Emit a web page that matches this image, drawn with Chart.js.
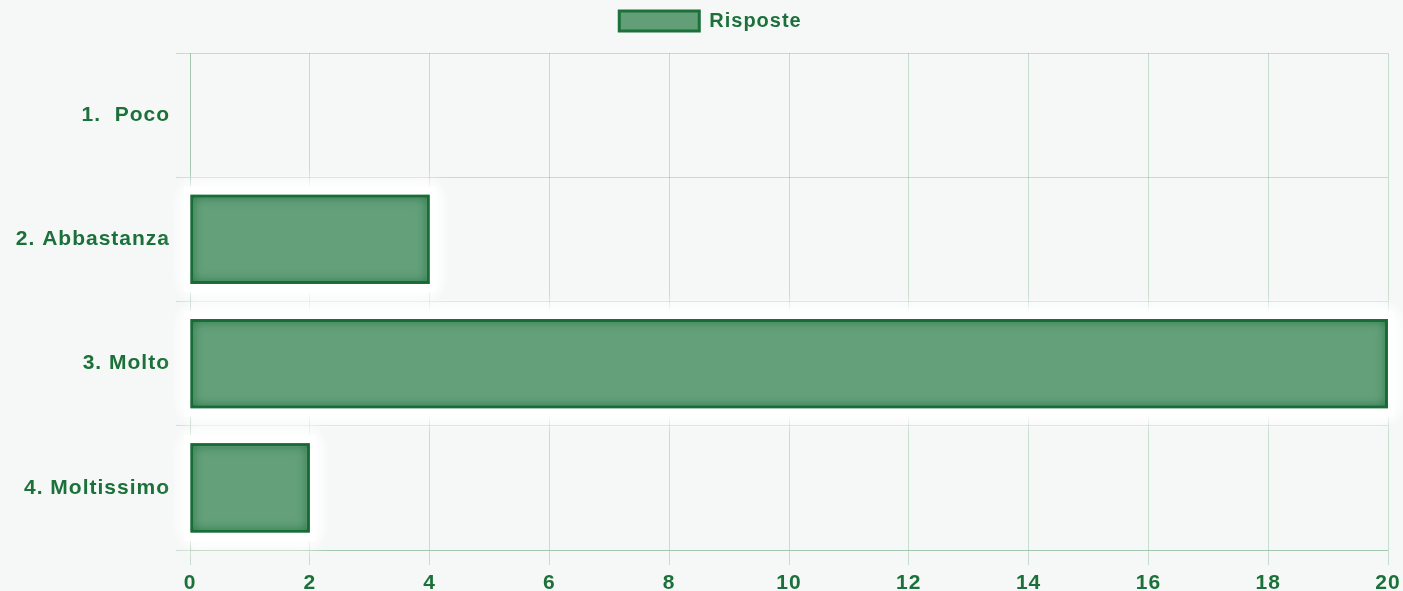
<!DOCTYPE html>
<html>
<head>
<meta charset="utf-8">
<style>
  html, body { margin: 0; padding: 0; background: #f6f8f7; }
  #wrap { width: 1403px; height: 591px; }
</style>
<script src="https://cdn.jsdelivr.net/npm/chart.js@4.4.0/dist/chart.umd.min.js"></script>
</head>
<body>
<div id="wrap"><canvas id="chart"></canvas></div>
<script>
/* ===== Data ===== */
const categories = ['1.  Poco', '2. Abbastanza', '3. Molto', '4. Moltissimo'];
const risposte   = [0, 4, 20, 2];
const seriesName = 'Risposte';

const GREEN      = '#1c713b';
const GREEN_FILL = 'rgba(40,125,72,0.72)';
const GRID       = 'rgba(31,122,64,0.22)';
const FONT       = 'Liberation Sans';

// Rect of a bar element, taken from the library
function barRect(el) {
  const p = el.getProps(['x', 'y', 'base', 'height'], true);
  const left = Math.min(p.x, p.base), right = Math.max(p.x, p.base);
  return { l: left, t: p.y - p.height / 2, w: right - left, h: p.height };
}

// White halo behind the bars + inner dark shading
const glowPlugin = {
  id: 'glow',
  beforeDatasetsDraw(chart) {
    const c = chart.ctx;
    chart.getDatasetMeta(0).data.forEach(el => {
      const r = barRect(el);
      if (r.w < 2) return;
      c.save();
      c.shadowColor = '#ffffff';
      c.shadowBlur = 18;
      c.fillStyle = '#ffffff';
      for (let i = 0; i < 3; i++) c.fillRect(r.l - 6, r.t - 8, r.w + 12, r.h + 16);
      c.restore();
    });
  },
  afterDatasetsDraw(chart) {
    const c = chart.ctx;
    chart.getDatasetMeta(0).data.forEach(el => {
      const r = barRect(el);
      if (r.w < 2) return;
      c.save();
      c.beginPath();
      c.rect(r.l, r.t, r.w, r.h);
      c.clip();
      c.shadowColor = 'rgba(20,100,50,0.9)';
      c.shadowBlur = 12;
      c.strokeStyle = GREEN;
      c.lineWidth = 8;
      c.strokeRect(r.l - 3, r.t - 3, r.w + 6, r.h + 6);
      c.restore();
    });
  },
};

// background + a bit wider letters, like the original
const bgPlugin = {
  id: 'bg',
  beforeInit(chart) {
    const legend = chart.legend;
    if (legend) {
      const fit = legend.fit;
      legend.fit = function () { fit.call(this); this.height += 12; };
    }
  },
  beforeDraw(chart) {
    const c = chart.ctx;
    c.fillStyle = '#f6f8f7';
    c.fillRect(0, 0, chart.width, chart.height);
    c.letterSpacing = '1px';
  },
};

new Chart(document.getElementById('chart'), {
  type: 'bar',
  data: {
    labels: categories,
    datasets: [{
      label: seriesName,
      data: risposte,
      backgroundColor: GREEN_FILL,
      borderColor: GREEN,
      borderWidth: 3,
      borderSkipped: false,
    }],
  },
  options: {
    indexAxis: 'y',
    responsive: true,
    maintainAspectRatio: false,
    animation: false,
    layout: { padding: { left: 10, right: 0, top: 0, bottom: 0 } },
    plugins: {
      legend: {
        labels: {
          color: GREEN,
          boxWidth: 80,
          boxHeight: 20,
          padding: 11,
          font: { family: FONT, size: 20, weight: 'bold' },
        },
      },
      tooltip: { enabled: false },
    },
    scales: {
      x: {
        min: 0,
        max: 20,
        afterFit(scale) { scale.height = 41; scale.paddingRight = 15; },
        ticks: { stepSize: 2, color: GREEN, padding: 6, font: { family: FONT, size: 21, weight: 'bold' } },
        grid: { color: GRID, tickLength: 15 },
        border: { color: GRID },
      },
      y: {
        afterFit(scale) { scale.width = 180; },
        ticks: { color: GREEN, padding: 6, font: { family: FONT, size: 21, weight: 'bold' } },
        grid: { color: GRID, tickLength: 14 },
        border: { color: GRID },
      },
    },
  },
  plugins: [bgPlugin, glowPlugin],
});
</script>
</body>
</html>
